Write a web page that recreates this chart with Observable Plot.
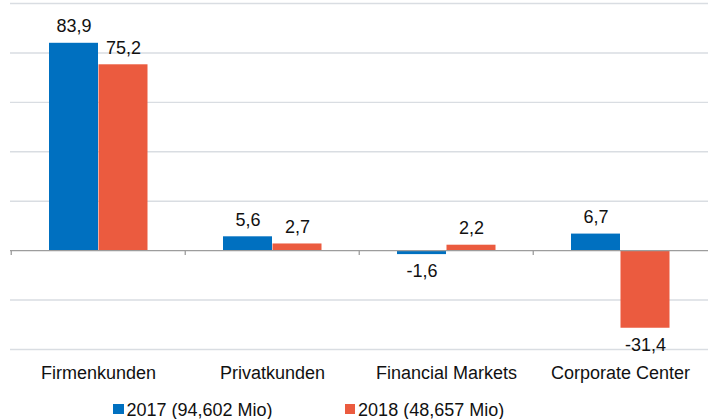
<!DOCTYPE html>
<html>
<head>
<meta charset="utf-8">
<script src="https://cdn.jsdelivr.net/npm/d3@7"></script>
<script src="https://cdn.jsdelivr.net/npm/@observablehq/plot@0.6"></script>
<style>
  html, body { margin: 0; padding: 0; background: #fff; }
  body { width: 708px; height: 419px; overflow: hidden; font-family: "Liberation Sans", Arial, sans-serif; }
  #legend { display: flex; padding-left: 113px; padding-top: 8px; font-size: 18px; line-height: 20px; color: #111; }
  .item { display: flex; align-items: center; }
  .item + .item { margin-left: 72px; }
  .sw { width: 10.5px; height: 10.5px; margin-right: 3px; margin-top: -2px; }
</style>
</head>
<body>
<div id="chart"></div>
<div id="legend"></div>
<script>
const categories = ["Firmenkunden", "Privatkunden", "Financial Markets", "Corporate Center"];
const values2017 = [83.9, 5.6, -1.6, 6.7];
const values2018 = [75.2, 2.7, 2.2, -31.4];
const seriesLabels = ["2017 (94,602 Mio)", "2018 (48,657 Mio)"];
const seriesColors = ["#0070c0", "#eb5b3f"];
const gridTicks = [-40, -20, 20, 40, 60, 80, 100];

const fmt = v => v.toFixed(1).replace(".", ",");
const d17 = categories.map((c, i) => ({category: c, value: values2017[i]}));
const d18 = categories.map((c, i) => ({category: c, value: values2018[i]}));

const font = "Liberation Sans, Arial, sans-serif";

const labelMarks = (data, dx) => [
  Plot.text(data.filter(d => d.value >= 0), {x: "category", y: "value", text: d => fmt(d.value), dx, dy: -11, lineAnchor: "bottom", fontSize: 18, fill: "#111"}),
  Plot.text(data.filter(d => d.value < 0), {x: "category", y: "value", text: d => fmt(d.value), dx, dy: 10, lineAnchor: "top", fontSize: 18, fill: "#111"})
];

const chart = Plot.plot({
  width: 708,
  height: 392,
  marginLeft: 10,
  marginRight: 0,
  marginTop: 3,
  marginBottom: 43,
  style: {fontFamily: font, fontSize: "18px", color: "#111", background: "#fff"},
  x: {domain: categories, padding: 0},
  y: {domain: [-40, 100], axis: null},
  marks: [
    Plot.ruleY(gridTicks, {stroke: "#d9dde2", strokeWidth: 1.4}),
    Plot.barY(d17, {x: "category", y: "value", fill: seriesColors[0], insetLeft: 38, insetRight: 87}),
    Plot.barY(d18, {x: "category", y: "value", fill: seriesColors[1], insetLeft: 87.5, insetRight: 37.5}),
    Plot.ruleY([0], {stroke: "#9d9d9d", strokeWidth: 1.3}),
    Plot.ruleX(categories, {x: d => d, y1: 0, y2: -2, dx: -87.25, stroke: "#9d9d9d", strokeWidth: 1.3}),
    ...labelMarks(d17, -24.5),
    ...labelMarks(d18, 25),
    Plot.axisX({tickSize: 0, tickPadding: 16.5, fontSize: 18, fill: "#111", label: null})
  ]
});
document.getElementById("chart").appendChild(chart);

const legend = document.getElementById("legend");
seriesLabels.forEach((s, i) => {
  const it = document.createElement("div");
  it.className = "item";
  const sw = document.createElement("div");
  sw.className = "sw";
  sw.style.background = seriesColors[i];
  const t = document.createElement("span");
  t.textContent = s;
  it.appendChild(sw);
  it.appendChild(t);
  legend.appendChild(it);
});
</script>
</body>
</html>
